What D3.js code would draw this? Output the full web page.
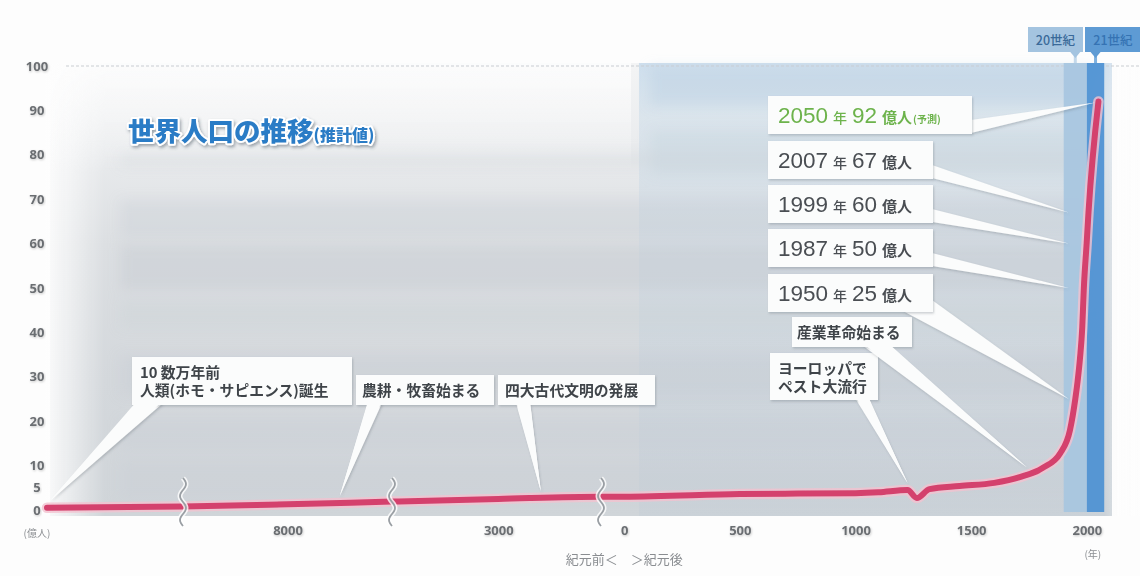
<!DOCTYPE html>
<html>
<head>
<meta charset="utf-8">
<script src="https://cdn.jsdelivr.net/npm/d3@7"></script>
<style>
  html, body { margin: 0; padding: 0; background: #fdfdfd; }
  svg { display: block; }
  text { font-family: "Noto Sans CJK JP", "Noto Sans", sans-serif; }
</style>
</head>
<body>
<svg id="chart" width="1140" height="576"></svg>
<script>
// World population estimates (unit: 億人 = 100 million people)
const years = [-100000, -10000, -8000, -6000, -3000, -100, 0, 500, 1000, 1100, 1225, 1265, 1320, 1450, 1600, 1710, 1810, 1885, 1927, 1950, 1960, 1970, 1980, 1987, 1999, 2007, 2050];
const population = [0.5, 0.8, 1.3, 1.9, 2.5, 3.0, 3.0, 3.6, 3.8, 4.0, 4.5, 2.7, 4.7, 5.4, 6.1, 7.4, 9.5, 12.8, 18, 25, 29, 34, 41, 50, 60, 67, 92];

// Axis ticks
const yTicks = [0, 5, 10, 20, 30, 40, 50, 60, 70, 80, 90, 100];
const xTicks = [-8000, -3000, 0, 500, 1000, 1500, 2000];
// Years where the time axis is broken (compressed)
const axisBreaks = [-10000, -6000, -100];

// Milestone callouts
const milestoneYears = [2050, 2007, 1999, 1987, 1950];
const milestoneValues = [92, 67, 60, 50, 25];
const milestoneNotes = ["(予測)", "", "", "", ""];

// Historical event callouts
const eventTexts = [
  ["10 数万年前", "人類(ホモ・サピエンス)誕生"],
  ["農耕・牧畜始まる"],
  ["四大古代文明の発展"],
  ["ヨーロッパで", "ペスト大流行"],
  ["産業革命始まる"]
];
const eventYears = [-100000, -7000, -1800, 1225, 1740];

// Century bands
const centuryNames = ["20世紀", "21世紀"];
const centuryStart = [1900, 2000];
const centuryEnd = [2000, 2075];

const svg = d3.select("#chart");
const defs = svg.append("defs");

// Broken time axis: piecewise linear scale
const x = d3.scaleLinear()
  .domain([-100000, -10000, -6000, -100, 2100])
  .range([47, 183, 392, 601, 1110]);
const y = d3.scaleLinear().domain([0, 100]).range([510, 66]);

const plotL = 50, plotR = 1112, plotT = y(100) - 3, plotB = 516;

// ---------- filters & gradients ----------
const soft = defs.append("filter").attr("id", "soft").attr("x", "-10%").attr("y", "-50%").attr("width", "120%").attr("height", "200%");
soft.append("feGaussianBlur").attr("stdDeviation", 6);

const txtShadow = defs.append("filter").attr("id", "txtShadow");
txtShadow.append("feDropShadow").attr("dx", 0.6).attr("dy", 1).attr("stdDeviation", 0.8)
  .attr("flood-color", "#000").attr("flood-opacity", 0.22);

const boxShadow = defs.append("filter").attr("id", "boxShadow").attr("x", "-10%").attr("y", "-20%").attr("width", "130%").attr("height", "150%");
boxShadow.append("feDropShadow").attr("dx", 1).attr("dy", 1.5).attr("stdDeviation", 1.3)
  .attr("flood-color", "#5a646e").attr("flood-opacity", 0.3);

const titleShadow = defs.append("filter").attr("id", "titleShadow").attr("x", "-10%").attr("y", "-30%").attr("width", "130%").attr("height", "170%");
titleShadow.append("feDropShadow").attr("dx", 1.5).attr("dy", 2).attr("stdDeviation", 1.6)
  .attr("flood-color", "#3b4a58").attr("flood-opacity", 0.45);

function vGrad(id, stops) {
  const g = defs.append("linearGradient").attr("id", id).attr("x1", 0).attr("y1", 0).attr("x2", 0).attr("y2", 1);
  stops.forEach(s => g.append("stop").attr("offset", s[0]).attr("stop-color", s[1]).attr("stop-opacity", s[2] ?? 1));
}
function hGrad(id, stops) {
  const g = defs.append("linearGradient").attr("id", id).attr("x1", 0).attr("y1", 0).attr("x2", 1).attr("y2", 0);
  stops.forEach(s => g.append("stop").attr("offset", s[0]).attr("stop-color", s[1]).attr("stop-opacity", s[2] ?? 1));
}
vGrad("plotBg", [[0, "#f3f4f5"], [0.18, "#eaecee"], [0.4, "#dcdfe2"], [0.7, "#d4d8dc"], [1, "#d0d5d9"]]);
vGrad("blueBg", [[0, "#cadcec", 0.9], [0.12, "#d3e0ea", 0.7], [0.35, "#cdd9e3", 0.55], [1, "#c4ced7", 0.45]]);
hGrad("leftFade", [[0, "#fdfdfd", 0.95], [1, "#fdfdfd", 0]]);
hGrad("rightFade", [[0, "#fdfdfd", 0], [1, "#fdfdfd", 1]]);

// ---------- background ----------
const bg = svg.append("g");
bg.append("rect").attr("x", plotL).attr("y", plotT).attr("width", plotR - plotL).attr("height", plotB - plotT)
  .attr("fill", "url(#plotBg)");

// blue tint on the modern-era side
bg.append("rect").attr("x", x(-100) + 38).attr("y", plotT).attr("width", plotR - x(-100) - 38).attr("height", plotB - plotT)
  .attr("fill", "url(#blueBg)");

// soft horizontal stripes
const stripes = bg.append("g").attr("filter", "url(#soft)");
const stripeRows = [
  [plotT + 4, 38, "#bcd0e2", 0.45, 650],
  [130, 45, "#c3d1de", 0.35, 650],
  [152, 14, "#cdd2d7", 0.3, 120],
  [200, 38, "#c4cbd2", 0.3, 120],
  [245, 45, "#c4c9cf", 0.4, 120],
  [300, 28, "#cad0d5", 0.3, 120],
  [355, 40, "#c4cbd1", 0.3, 120],
  [420, 30, "#c7ced4", 0.28, 120],
  [460, 40, "#c8ced5", 0.3, 120]
];
stripeRows.forEach(r => {
  stripes.append("rect").attr("x", r[4]).attr("y", r[0]).attr("width", plotR - r[4] - 20).attr("height", r[1])
    .attr("fill", r[2]).attr("opacity", r[3]);
});

// light fade at the left and right edges of the plot
bg.append("rect").attr("x", plotL - 5).attr("y", plotT).attr("width", 60).attr("height", plotB - plotT).attr("fill", "url(#leftFade)");
bg.append("rect").attr("x", plotR - 8).attr("y", plotT).attr("width", 40).attr("height", plotB - plotT).attr("fill", "url(#rightFade)");
// top-left haze
vGrad("topHaze", [[0, "#fdfdfd", 0.85], [1, "#fdfdfd", 0]]);
bg.append("rect").attr("x", plotL).attr("y", plotT).attr("width", x(-100) - plotL + 30).attr("height", 110).attr("fill", "url(#topHaze)");

// dashed top gridline
svg.append("line").attr("x1", 66).attr("x2", 1140).attr("y1", y(100)).attr("y2", y(100))
  .attr("stroke", "#c9cdd1").attr("stroke-width", 1).attr("stroke-dasharray", "3 2");

// ---------- century bands ----------
const bandFill = ["#a7c6e0", "#4c90d2"];
const bands = svg.append("g");
centuryNames.forEach((n, i) => {
  bands.append("rect")
    .attr("x", x(centuryStart[i])).attr("y", plotT)
    .attr("width", x(centuryEnd[i]) - x(centuryStart[i])).attr("height", 512 - plotT)
    .attr("fill", bandFill[i]).attr("opacity", 0.92);
});

// century labels at the top
const labFill = ["#a4c4e0", "#5e9bd4"];
const labText = ["#3a6a99", "#3573b3"];
const labBox = [[1028, 55], [1085, 56]];
centuryNames.forEach((n, i) => {
  const cx = (x(centuryStart[i]) + x(centuryEnd[i])) / 2;
  const g = svg.append("g");
  g.append("line").attr("x1", cx).attr("x2", cx).attr("y1", 56).attr("y2", plotT)
    .attr("stroke", i ? "#7eb0de" : "#c3d8ea").attr("stroke-width", 3);
  g.append("rect").attr("x", labBox[i][0]).attr("y", 27).attr("width", labBox[i][1]).attr("height", 25)
    .attr("fill", labFill[i]);
  g.append("path").attr("d", `M${cx - 5},52L${cx + 5},52L${cx},58Z`).attr("fill", labFill[i]);
  g.append("text").attr("x", labBox[i][0] + labBox[i][1] / 2).attr("y", 44.5)
    .attr("text-anchor", "middle").attr("font-size", 12.5).attr("font-weight", 500)
    .attr("fill", labText[i]).text(n);
});

// ---------- axes ----------
const yAxis = svg.append("g").attr("transform", "translate(37,0)")
  .call(d3.axisLeft(y).tickValues(yTicks).tickSize(0).tickPadding(0));
yAxis.select(".domain").remove();
yAxis.selectAll("text")
  .attr("text-anchor", "middle").attr("x", 0)
  .style("font-family", "'Open Sans', sans-serif").style("font-size", "13px").style("font-weight", 700)
  .attr("fill", "#6b6e72").attr("filter", "url(#txtShadow)");

const xAxis = svg.append("g").attr("transform", "translate(0,526)")
  .call(d3.axisBottom(x).tickValues(xTicks).tickFormat(d => Math.abs(d)).tickSize(0).tickPadding(0));
xAxis.select(".domain").remove();
xAxis.selectAll("text")
  .style("font-family", "'Open Sans', sans-serif").style("font-size", "13px").style("font-weight", 700)
  .attr("fill", "#6b6e72").attr("filter", "url(#txtShadow)");

svg.append("text").attr("x", 37).attr("y", 537).attr("text-anchor", "middle")
  .attr("font-size", 10).attr("fill", "#8b8e92").text("(億人)");
svg.append("text").attr("x", x(2000) + 6).attr("y", 558).attr("text-anchor", "middle")
  .attr("font-size", 10).attr("fill", "#8b8e92").text("(年)");
svg.append("text").attr("x", x(0)).attr("y", 564).attr("text-anchor", "middle")
  .attr("font-size", 13).attr("fill", "#8a8d91").text("紀元前＜　＞紀元後");

// ---------- population line ----------
const series = years.map((yr, i) => ({ yr, v: population[i] }));
const line = d3.line().x(d => x(d.yr)).y(d => y(d.v)).curve(d3.curveMonotoneX);
svg.append("path").datum(series).attr("d", line).attr("fill", "none")
  .attr("stroke", "#f2c2d0").attr("stroke-width", 10.5).attr("stroke-linejoin", "round").attr("stroke-linecap", "round").attr("opacity", 0.8);
svg.append("path").datum(series).attr("d", line).attr("fill", "none")
  .attr("stroke", "#d4416d").attr("stroke-width", 6).attr("stroke-linejoin", "round").attr("stroke-linecap", "round");

// axis break marks (wavy)
axisBreaks.forEach(b => {
  const cx = x(b);
  const pts = d3.range(0, 49, 1).map(t => [cx + 3 * Math.sin(t / 48 * Math.PI * 4), 478 + t]);
  const wave = d3.line().curve(d3.curveBasis);
  svg.append("path").attr("d", wave(pts)).attr("fill", "none").attr("stroke", "#ffffff").attr("stroke-width", 5).attr("opacity", 0.8);
  svg.append("path").attr("d", wave(pts)).attr("fill", "none").attr("stroke", "#9a9fa4").attr("stroke-width", 1.8);
});

// value on the line at a given year (for pointer tips)
function valueAt(yr) {
  const i = d3.bisectLeft(years, yr);
  if (i <= 0) return population[0];
  if (i >= years.length) return population[years.length - 1];
  const t = (yr - years[i - 1]) / (years[i] - years[i - 1]);
  return population[i - 1] + t * (population[i] - population[i - 1]);
}

// ---------- event callouts ----------
const eventLayout = [
  { x: 132, y: 357, w: 220, h: 48, tx: 140, base: [137, 163] },
  { x: 356, y: 375, w: 138, h: 30, tx: 362, base: [368, 382] },
  { x: 498, y: 375, w: 157, h: 30, tx: 505, base: [516, 530] },
  { x: 770, y: 353, w: 108, h: 47, tx: 778, base: [855, 868] },
  { x: 792, y: 317, w: 120, h: 30, tx: 797, base: [862, 888] }
];
const callouts = svg.append("g");
eventTexts.forEach((lines, i) => {
  const L = eventLayout[i];
  const tipX = x(eventYears[i]) + (i === 0 ? 3 : 0);
  const tipY = y(valueAt(eventYears[i])) - 7;
  const g = callouts.append("g");
  g.append("path")
    .attr("d", `M${L.base[0]},${L.y + L.h - 2}L${L.base[1]},${L.y + L.h - 2}L${tipX},${tipY}Z`)
    .attr("fill", "#fbfcfc").attr("filter", "url(#boxShadow)");
  g.append("rect").attr("x", L.x).attr("y", L.y).attr("width", L.w).attr("height", L.h)
    .attr("fill", "#fbfcfc").attr("filter", "url(#boxShadow)");
  g.append("path")
    .attr("d", `M${L.base[0]},${L.y + L.h - 4}L${L.base[1]},${L.y + L.h - 4}L${tipX},${tipY}Z`)
    .attr("fill", "#fbfcfc");
  const t = g.append("text").attr("x", L.tx).attr("y", L.y + 20.5)
    .attr("font-size", 14.8).attr("font-weight", 700).attr("fill", "#3f4449");
  lines.forEach((s, k) => {
    t.append("tspan").attr("x", L.tx).attr("dy", k ? 18 : 0).text(s);
  });
});

// ---------- milestone callouts ----------
const msTop = [96, 141, 185, 229, 274];
const msWidth = [204, 165, 165, 165, 165];
const digitFont = "'Liberation Sans', Arial, sans-serif";
milestoneYears.forEach((yr, i) => {
  const top = msTop[i], h = 38, left = 768, right = left + msWidth[i];
  const projected = milestoneNotes[i] !== "";
  const tipX = projected ? x(yr) - 3 : x(centuryStart[0]) + 5;
  const tipY = projected ? y(milestoneValues[i]) + 1 : y(milestoneValues[i]);
  const base = i === 4 ? [[right - 30, top + h - 1], [right - 1, top + h - 12]]
                       : [[right - 1, top + h - 14], [right - 1, top + h - 1]];
  const g = callouts.append("g");
  g.append("path").attr("d", `M${base[0][0]},${base[0][1]}L${base[1][0]},${base[1][1]}L${tipX},${tipY}Z`)
    .attr("fill", "#fbfcfc").attr("filter", "url(#boxShadow)");
  g.append("rect").attr("x", left).attr("y", top).attr("width", right - left).attr("height", h)
    .attr("fill", "#fbfcfc").attr("filter", "url(#boxShadow)");
  const col = projected ? "#6db34c" : "#4a4e53";
  const t = g.append("text").attr("x", left + 10).attr("y", top + 27).attr("fill", col);
  t.append("tspan").style("font-family", digitFont).attr("font-size", 22.5).text(yr);
  t.append("tspan").attr("dx", 5).attr("font-size", 14).attr("font-weight", 500).text("年");
  t.append("tspan").attr("dx", 5).style("font-family", digitFont).attr("font-size", 22.5).text(milestoneValues[i]);
  t.append("tspan").attr("dx", 5).attr("font-size", 15).attr("font-weight", 700).text("億人");
  if (projected) t.append("tspan").attr("dx", 1).attr("font-size", 10).attr("font-weight", 700).text(milestoneNotes[i]);
});

// ---------- title ----------
const title = svg.append("text").attr("x", 128).attr("y", 141).attr("filter", "url(#titleShadow)")
  .attr("fill", "#2b7cc6").attr("stroke", "#ffffff").attr("stroke-width", 4).attr("paint-order", "stroke")
  .attr("stroke-linejoin", "round").attr("font-weight", 900);
title.append("tspan").attr("font-size", 26.5).text("世界人口の推移");
title.append("tspan").attr("font-size", 16).text("(推計値)");
</script>
</body>
</html>
